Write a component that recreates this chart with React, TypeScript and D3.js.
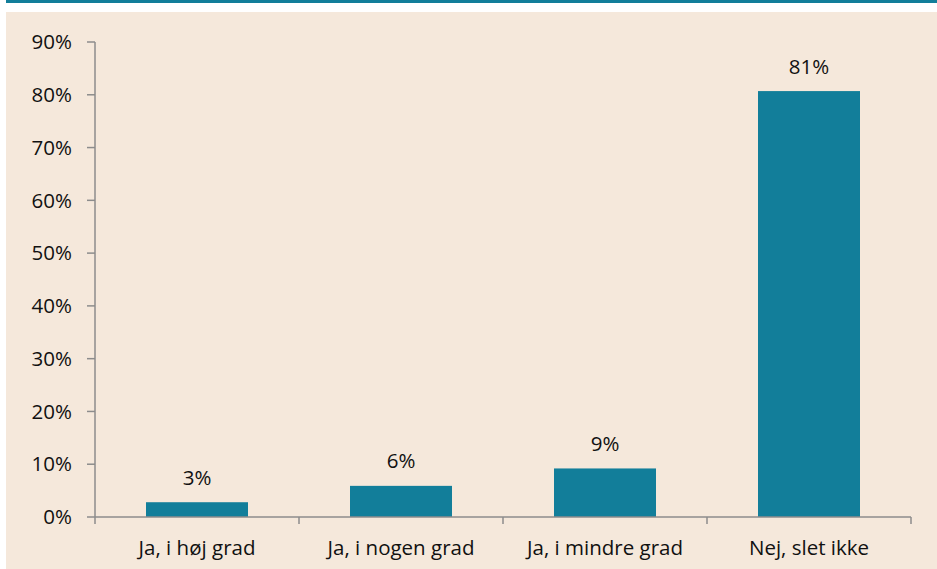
import * as d3 from 'd3';
import React from 'react';

const categories = ['Ja, i høj grad', 'Ja, i nogen grad', 'Ja, i mindre grad', 'Nej, slet ikke'];
const values = [2.8, 5.9, 9.2, 80.7];
const valueLabels = ['3%', '6%', '9%', '81%'];
const yTicks = [0, 10, 20, 30, 40, 50, 60, 70, 80, 90];

const W = 937;
const H = 569;
const font = '"Open Sans", "Noto Sans", sans-serif';
const fs = 20.5;

const App = () => {
  const margin = { left: 95, right: 26, top: 42, bottom: 52 };
  const x = d3
    .scaleBand<string>()
    .domain(categories)
    .range([margin.left, W - margin.right])
    .paddingInner(0.5)
    .paddingOuter(0.25);
  const y = d3.scaleLinear().domain([0, 90]).range([H - margin.bottom, margin.top]);
  const step = x.step();
  const y0 = y(0);

  return (
    <svg
      width={W}
      height={H}
      style={{ position: 'fixed', top: 0, left: 0, display: 'block' }}
    >
      <rect x={0} y={0} width={W} height={H} fill="#ffffff" />
      <rect x={6} y={0} width={W - 6} height={3} fill="#127E9A" />
      <rect x={6} y={12} width={W - 6} height={H - 12} fill="#F5E8DB" />

      {/* y axis */}
      <line x1={margin.left} x2={margin.left} y1={y(90)} y2={y0} stroke="#8C8C8C" strokeWidth={1.5} />
      {yTicks.map(t => (
        <g key={t}>
          <line x1={margin.left - 8} x2={margin.left} y1={y(t)} y2={y(t)} stroke="#8C8C8C" strokeWidth={1.5} />
          <text
            x={72}
            y={y(t)}
            dy="0.35em"
            textAnchor="end"
            fontFamily={font}
            fontSize={fs}
            fill="#111"
          >
            {t}%
          </text>
        </g>
      ))}

      {/* bars */}
      {categories.map((c, i) => (
        <g key={c}>
          <rect x={x(c)} y={y(values[i])} width={x.bandwidth()} height={y0 - y(values[i])} fill="#127E9A" />
          <text
            x={x(c)! + x.bandwidth() / 2}
            y={y(values[i]) - 17.5}
            textAnchor="middle"
            fontFamily={font}
            fontSize={fs}
            fill="#111"
          >
            {valueLabels[i]}
          </text>
          <text
            x={x(c)! + x.bandwidth() / 2}
            y={555}
            textAnchor="middle"
            fontFamily={font}
            fontSize={fs}
            fill="#111"
          >
            {c}
          </text>
        </g>
      ))}

      {/* x axis */}
      <line x1={margin.left} x2={W - margin.right} y1={y0} y2={y0} stroke="#8C8C8C" strokeWidth={1.5} />
      {d3.range(categories.length + 1).map(i => (
        <line
          key={i}
          x1={margin.left + i * step}
          x2={margin.left + i * step}
          y1={y0}
          y2={y0 + 7}
          stroke="#8C8C8C"
          strokeWidth={1.5}
        />
      ))}
    </svg>
  );
};

export default App;
